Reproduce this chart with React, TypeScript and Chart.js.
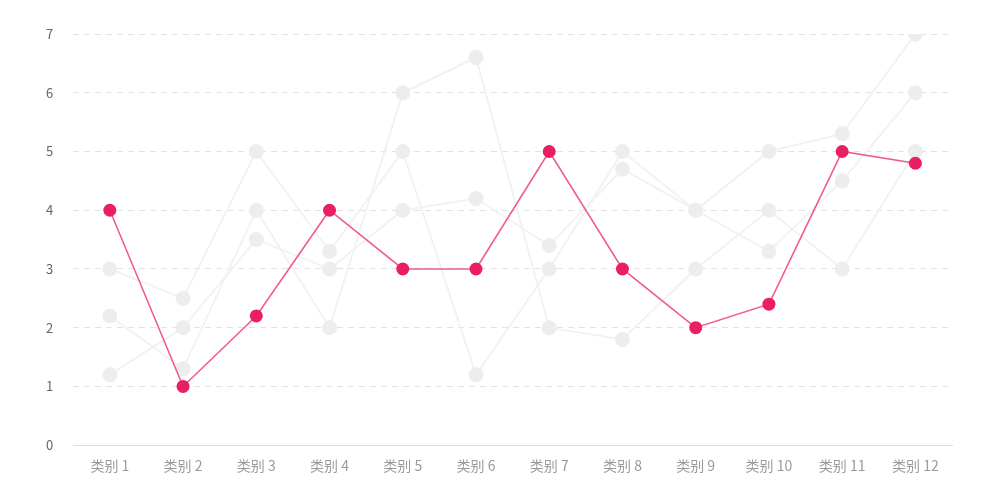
import React, { useEffect, useRef } from "react";
import { Chart, registerables } from "chart.js";

Chart.register(...registerables);

const categories = ["类别 1", "类别 2", "类别 3", "类别 4", "类别 5", "类别 6", "类别 7", "类别 8", "类别 9", "类别 10", "类别 11", "类别 12"];
const highlight = [4, 1, 2.2, 4, 3, 3, 5, 3, 2, 2.4, 5, 4.8];
const seriesA = [3, 2.5, 5, 3.3, 5, 1.2, 3, 5, 4, 5, 5.3, 7];
const seriesB = [1.2, 2, 3.5, 3, 4, 4.2, 3.4, 4.7, 4, 3.3, 4.5, 6];
const seriesC = [2.2, 1.3, 4, 2, 6, 6.6, 2, 1.8, 3, 4, 3, 5];
const yTicks = [0, 1, 2, 3, 4, 5, 6, 7];

const FONT = "'Noto Sans CJK SC', 'Noto Sans', sans-serif";

export default function App() {
  const ref = useRef<HTMLCanvasElement | null>(null);
  useEffect(() => {
    if (!ref.current) return;
    const grey = (data: number[], name: string) => ({
      label: name,
      data,
      borderColor: "#f2f2f2",
      borderWidth: 2,
      backgroundColor: "#ededed",
      pointBackgroundColor: "#ededed",
      pointBorderWidth: 0,
      pointRadius: 7.5,
      tension: 0,
      order: 2,
    });
    const chart = new Chart(ref.current, {
      type: "line",
      data: {
        labels: categories,
        datasets: [
          {
            label: "highlight",
            data: highlight,
            borderColor: "rgba(236,64,122,0.85)",
            borderWidth: 1.6,
            backgroundColor: "#e91e63",
            pointBackgroundColor: "#e91e63",
            pointBorderWidth: 0,
            pointRadius: 6.5,
            tension: 0,
            order: 1,
          },
          grey(seriesA, "A"),
          grey(seriesB, "B"),
          grey(seriesC, "C"),
        ],
      },
      options: {
        responsive: false,
        animation: false,
        layout: { padding: { left: 26, right: 46, top: 34, bottom: 12 } },
        plugins: { legend: { display: false }, tooltip: { enabled: false } },
        scales: {
          x: {
            offset: true,
            grid: { display: false, drawTicks: false },
            border: { display: true, color: "#dddddd", width: 1 },
            ticks: { color: "#9a9a9a", padding: 12, font: { family: FONT, size: 14 }, maxRotation: 0 },
          },
          y: {
            min: 0,
            max: 7,
            afterBuildTicks: (axis: any) => {
              axis.ticks = yTicks.map((v) => ({ value: v }));
            },
            grid: {
              drawTicks: false,
              color: (ctx: any) => (ctx.tick && ctx.tick.value === 0 ? "rgba(0,0,0,0)" : "#e2e2e2"),
              lineWidth: 1,
            },
            border: { display: false, dash: [6, 5] },
            ticks: { color: "#666666", padding: 20, font: { family: FONT, size: 13 } },
          },
        },
      },
    });
    return () => chart.destroy();
  }, []);
  return (
    <div style={{ position: "fixed", left: 0, top: 0, width: 998, height: 498, background: "#fff" }}>
      <canvas ref={ref} width={998} height={498} style={{ display: "block" }} />
    </div>
  );
}
